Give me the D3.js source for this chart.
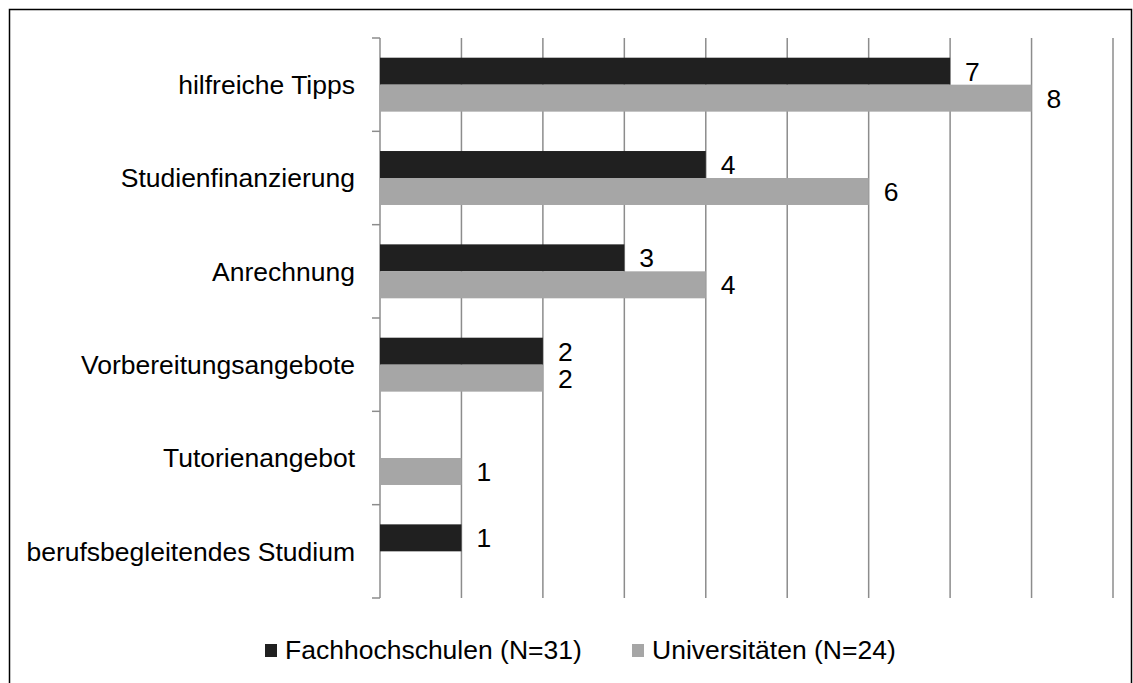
<!DOCTYPE html>
<html>
<head>
<meta charset="utf-8">
<script src="https://cdn.jsdelivr.net/npm/d3@7"></script>
<style>
  body { margin: 0; background: #fff; }
  text { font-family: "Liberation Sans", Arial, sans-serif; fill: #000; }
</style>
</head>
<body>
<div id="chart"></div>
<script>
// data
const categories = ['hilfreiche Tipps', 'Studienfinanzierung', 'Anrechnung',
  'Vorbereitungsangebote', 'Tutorienangebot', 'berufsbegleitendes Studium'];
const seriesNames = ['Fachhochschulen (N=31)', 'Universitäten (N=24)'];
const fhValues = [7, 4, 3, 2, 0, 1];
const uniValues = [8, 6, 4, 2, 1, 0];
const xTicks = [0, 1, 2, 3, 4, 5, 6, 7, 8, 9];
const colors = ['#202020', '#a6a6a6'];

const width = 1133, height = 683;
const margin = { top: 38, right: 20, bottom: 85, left: 380 };
const fontSize = '26.5px';

const svg = d3.select('#chart').append('svg')
  .attr('width', width)
  .attr('height', height);

// outer frame (bottom edge is cut off in the original)
svg.append('path')
  .attr('d', `M9.5,${height} V9.5 H1131.5 V${height}`)
  .attr('fill', 'none')
  .attr('stroke', '#000')
  .attr('stroke-width', 1.5);

const x = d3.scaleLinear().domain([0, 9]).range([margin.left, 1113]);
const y = d3.scaleBand().domain(categories)
  .range([margin.top, height - margin.bottom]);
const sub = d3.scaleBand().domain([0, 1])
  .range([0, y.bandwidth()]).paddingOuter(0.73);

// vertical gridlines
svg.append('g').selectAll('line')
  .data(xTicks.slice(1))
  .join('line')
  .attr('x1', d => x(d)).attr('x2', d => x(d))
  .attr('y1', margin.top).attr('y2', height - margin.bottom)
  .attr('stroke', '#8c8c8c').attr('stroke-width', 1.5);

// category axis
const yAxis = svg.append('g');
yAxis.append('line')
  .attr('x1', x(0)).attr('x2', x(0))
  .attr('y1', margin.top).attr('y2', height - margin.bottom)
  .attr('stroke', '#8c8c8c').attr('stroke-width', 1.5);
const boundaries = categories.map(c => y(c)).concat([height - margin.bottom]);
yAxis.selectAll('.tick').data(boundaries).join('line')
  .attr('x1', x(0) - 8).attr('x2', x(0))
  .attr('y1', d => d).attr('y2', d => d)
  .attr('stroke', '#8c8c8c').attr('stroke-width', 1.5);
yAxis.selectAll('text').data(categories).join('text')
  .attr('x', 355)
  .attr('y', d => y(d) + y.bandwidth() / 2)
  .attr('dy', '0.35em')
  .attr('text-anchor', 'end')
  .style('font-size', fontSize)
  .text(d => d);

// bars
const series = [fhValues, uniValues];
series.forEach((vals, si) => {
  const g = svg.append('g');
  const rows = categories.map((c, i) => ({ c, v: vals[i] })).filter(d => d.v > 0);
  g.selectAll('rect').data(rows).join('rect')
    .attr('x', x(0))
    .attr('y', d => y(d.c) + sub(si))
    .attr('width', d => x(d.v) - x(0))
    .attr('height', sub.bandwidth())
    .attr('fill', colors[si]);
  g.selectAll('text').data(rows).join('text')
    .attr('x', d => x(d.v) + 15)
    .attr('y', d => y(d.c) + sub(si) + sub.bandwidth() / 2)
    .attr('dy', '0.36em')
    .style('font-size', fontSize)
    .text(d => d.v);
});

// legend
const legendPos = [265, 632];
const legend = svg.append('g');
seriesNames.forEach((name, i) => {
  legend.append('rect')
    .attr('x', legendPos[i]).attr('y', 644)
    .attr('width', 12).attr('height', 13)
    .attr('fill', colors[i]);
  legend.append('text')
    .attr('x', legendPos[i] + 20).attr('y', 659)
    .style('font-size', fontSize)
    .text(name);
});
</script>
</body>
</html>
